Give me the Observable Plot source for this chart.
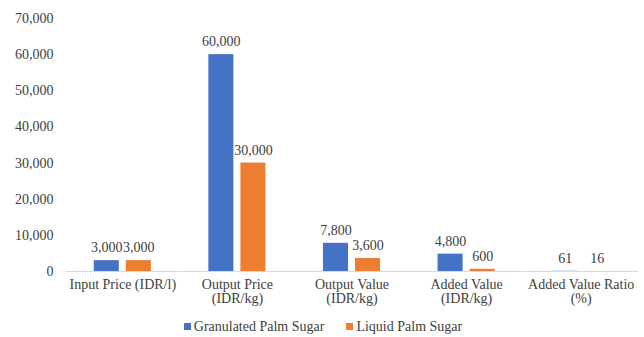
<!DOCTYPE html>
<html>
<head>
<meta charset="utf-8">
<script src="https://cdn.jsdelivr.net/npm/d3@7"></script>
<script src="https://cdn.jsdelivr.net/npm/@observablehq/plot@0.6"></script>
<style>
  body { margin: 0; background: white; }
  #legend { display: flex; justify-content: center; gap: 22px; width: 644px; font-family: "Liberation Serif", "Times New Roman", Tinos, "DejaVu Serif", serif; font-size: 14px; color: #404040; height: 21px; align-items: center; padding-left: 2px; box-sizing: border-box; }
  .item { display: flex; align-items: center; gap: 3px; }
  .sw { width: 7px; height: 7px; display: inline-block; }
</style>
</head>
<body>
<div id="chart"></div>
<div id="legend"></div>
<script>
const categories = ["Input Price (IDR/l)", "Output Price\n(IDR/kg)", "Output Value\n(IDR/kg)", "Added Value\n(IDR/kg)", "Added Value Ratio\n(%)"];
const series = ["Granulated Palm Sugar", "Liquid Palm Sugar"];
const granulated = [3000, 60000, 7800, 4800, 61];
const liquid = [3000, 30000, 3600, 600, 16];
const yTicks = [0, 10000, 20000, 30000, 40000, 50000, 60000, 70000];
const colors = ["#4472C4", "#ED7D31"];

const data = [];
categories.forEach((c, i) => {
  data.push({category: c, series: series[0], value: granulated[i]});
  data.push({category: c, series: series[1], value: liquid[i]});
});
const fmt = d3.format(",");
const serif = "'Liberation Serif', 'Times New Roman', Tinos, 'DejaVu Serif', serif";

const chart = Plot.plot({
  width: 644,
  height: 316,
  marginLeft: 65,
  marginRight: 6,
  marginTop: 18,
  marginBottom: 45,
  style: {fontFamily: serif, fontSize: "14px", color: "#404040", background: "white"},
  fx: {domain: categories, padding: 0, round: false, label: null, tickSize: 0, tickPadding: 8},
  x: {domain: series, paddingInner: 0.219, paddingOuter: 0.897, round: false, axis: null},
  y: {domain: [0, 70000], ticks: yTicks, tickFormat: fmt, label: null, tickSize: 0, tickPadding: 12},
  color: {domain: series, range: colors},
  marks: [
    Plot.barY(data, {fx: "category", x: "series", y: "value", fill: "series"}),
    Plot.ruleY([0], {stroke: "#d9d9d9", strokeWidth: 1}),
    Plot.text(data, {fx: "category", x: "series", y: "value", text: d => fmt(d.value), dy: -13, fill: "#404040"})
  ]
});
chart.style.fontFamily = serif;
document.getElementById("chart").append(chart);

const legend = document.getElementById("legend");
series.forEach((s, i) => {
  const it = document.createElement("div");
  it.className = "item";
  it.innerHTML = `<span class="sw" style="background:${colors[i]}"></span><span>${s}</span>`;
  legend.append(it);
});
</script>
</body>
</html>
